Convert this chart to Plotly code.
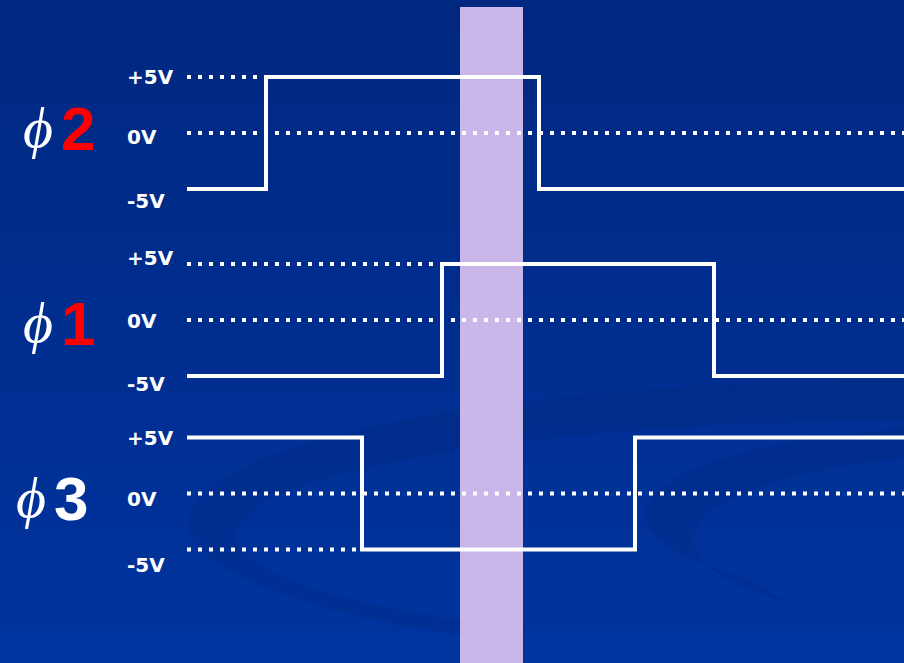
import math

import plotly.graph_objects as go

W, H = 904, 663
PX_PER_V = 11.2

# clock phases, top to bottom
phases = ["2", "1", "3"]
phase_colors = ["#FF0000", "#FF0000", "#FFFFFF"]

# step waveforms (time in slide units, level in volts)
phi2_t = [187, 266, 539, 904]
phi2_v = [-5, 5, -5, -5]
phi1_t = [187, 442, 714, 904]
phi1_v = [-5, 5, -5, -5]
phi3_t = [187, 362, 635, 904]
phi3_v = [5, -5, 5, 5]

# dotted reference levels: (level, start, end)
phi2_refs = [(5, 187, 264), (0, 187, 904)]
phi1_refs = [(5, 187, 440), (0, 187, 904)]
phi3_refs = [(0, 187, 904), (-5, 187, 360)]

level_labels = ["+5V", "0V", "-5V"]
# label heights in volts for each phase
label_v = [[5.0, -0.36, -6.07], [5.54, -0.1, -5.7], [4.96, -0.5, -6.4]]

# highlighted interval
band_t = (460, 523)

zero_px = [133, 320, 493.5]
waves = [(phi2_t, phi2_v), (phi1_t, phi1_v), (phi3_t, phi3_v)]
refs = [phi2_refs, phi1_refs, phi3_refs]

FONT = "Arial, Liberation Sans, sans-serif"


def px_y(p):
    return 1 - p / H


def px_x(p):
    return p / W


def ring(outer, inner, a0, a1, steps=80):
    """Crescent between two ellipses (cx, cy, rx, ry) in pixel space, as a paper path."""
    pts = []
    for k in range(steps + 1):
        a = math.radians(a0 + (a1 - a0) * k / steps)
        pts.append((outer[0] + outer[2] * math.cos(a), outer[1] - outer[3] * math.sin(a)))
    for k in range(steps + 1):
        a = math.radians(a1 - (a1 - a0) * k / steps)
        pts.append((inner[0] + inner[2] * math.cos(a), inner[1] - inner[3] * math.sin(a)))
    return "M " + " L ".join(f"{px_x(x):.4f},{px_y(y):.4f}" for x, y in pts) + " Z"


fig = go.Figure()

# background gradient strips
top = (0, 40, 128)
bot = (0, 52, 158)
n = 20
shapes = []
for i in range(n):
    f = i / (n - 1)
    c = tuple(round(top[k] + (bot[k] - top[k]) * f) for k in range(3))
    shapes.append(dict(type="rect", xref="paper", yref="paper", x0=0, x1=1,
                       y0=1 - (i + 1) / n, y1=1 - i / n + 0.002,
                       fillcolor=f"rgb{c}", line_width=0, layer="below"))

# faint swooshes in the background
shapes.append(dict(type="path", xref="paper", yref="paper",
                   path=ring((900, 523, 712, 143), (920, 535, 683, 115), 85, 235),
                   fillcolor="rgba(0,15,80,0.10)", line_width=0, layer="below"))
shapes.append(dict(type="path", xref="paper", yref="paper",
                   path=ring((1000, 515, 355, 90), (1010, 540, 317, 87), 70, 225),
                   fillcolor="rgba(0,15,80,0.10)", line_width=0, layer="below"))

shapes.append(dict(type="rect", xref="x", yref="paper", x0=band_t[0], x1=band_t[1],
                   y0=0, y1=px_y(7), fillcolor="#C9B7E9", line_width=0, layer="below"))

annotations = []
for i in range(3):
    ax = "" if i == 0 else str(i + 1)
    yref = "y" + ax
    for lvl, x0, x1 in refs[i]:
        fig.add_trace(go.Scatter(x=[x0, x1], y=[lvl, lvl], mode="lines", yaxis=yref,
                                 line=dict(color="white", width=4, dash="4px,7px"),
                                 hoverinfo="skip", showlegend=False))
    t, v = waves[i]
    fig.add_trace(go.Scatter(x=t, y=v, mode="lines", yaxis=yref,
                             line=dict(color="white", width=4, shape="hv"),
                             hoverinfo="skip", showlegend=False))
    for lab, yv in zip(level_labels, label_v[i]):
        annotations.append(dict(x=125, y=yv, xref="x", yref=yref, text=f"<b>{lab}</b>",
                                showarrow=False, xanchor="left", yanchor="middle",
                                font=dict(family="DejaVu Sans", size=20, color="white")))
    # phase label
    cy = [128, 322, 497][i]
    sx = [21, 21, 14][i]
    annotations.append(dict(x=px_x(sx), y=px_y(cy), xref="paper", yref="paper",
                            text="<i>ϕ</i>", showarrow=False, xanchor="left", yanchor="middle",
                            font=dict(family="Liberation Serif", size=58, color="white")))
    annotations.append(dict(x=px_x(sx + 38), y=px_y(cy + 1), xref="paper", yref="paper",
                            text=f"<b>{phases[i]}</b>", showarrow=False, xanchor="left",
                            yanchor="middle",
                            font=dict(family=FONT, size=62, color=phase_colors[i])))

half = 7 * PX_PER_V
axis_common = dict(range=[-7, 7], visible=False, fixedrange=True)
layout_axes = {}
for i, zp in enumerate(zero_px):
    name = "yaxis" if i == 0 else f"yaxis{i + 1}"
    layout_axes[name] = dict(axis_common, domain=[px_y(zp + half), px_y(zp - half)])
    if i > 0:
        layout_axes[name]["anchor"] = "x"

fig.update_layout(
    width=W, height=H,
    margin=dict(l=0, r=0, t=0, b=0),
    paper_bgcolor="#002E8E",
    plot_bgcolor="rgba(0,0,0,0)",
    xaxis=dict(range=[0, W], visible=False, fixedrange=True),
    shapes=shapes,
    annotations=annotations,
    showlegend=False,
    **layout_axes,
)

fig.write_html(
    "out.html",
    config={"displayModeBar": False},
    post_script="document.body.style.margin='0';document.body.style.overflow='hidden';",
)
